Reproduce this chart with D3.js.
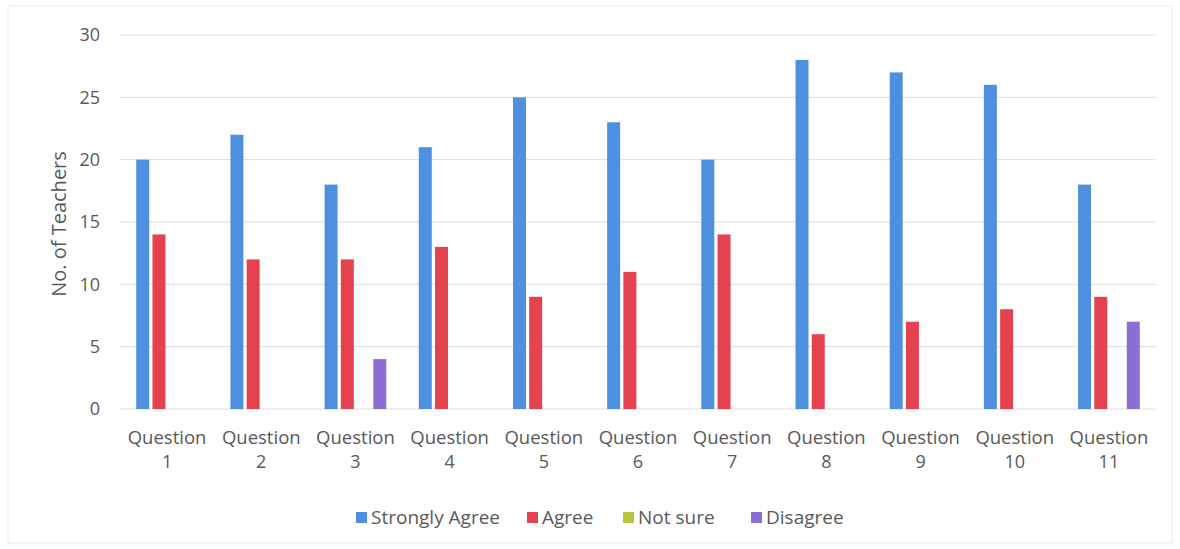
<!DOCTYPE html>
<html><head><meta charset="utf-8">
<script src="https://cdn.jsdelivr.net/npm/d3@7"></script>
<style>body{margin:0;background:#fff;} text{font-family:"Open Sans",sans-serif;}</style>
</head><body><svg id="c" width="1180" height="549"></svg>
<script>
const categories = ["Question 1","Question 2","Question 3","Question 4","Question 5","Question 6","Question 7","Question 8","Question 9","Question 10","Question 11"];
const seriesNames = ["Strongly Agree","Agree","Not sure","Disagree"];
const stronglyAgree = [20,22,18,21,25,23,20,28,27,26,18];
const agree = [14,12,12,13,9,11,14,6,7,8,9];
const notSure = [0,0,0,0,0,0,0,0,0,0,0];
const disagree = [0,0,4,0,0,0,0,0,0,0,7];
const yTicks = [0,5,10,15,20,25,30];
const colors = ["#4f8fe0","#e5424f","#b9c43c","#8b6fd2"];

const seriesVals = [stronglyAgree, agree, notSure, disagree];
const svg = d3.select("#c");
const m = {l:120, r:1156, t:35, b:409};
const x0 = d3.scaleBand().domain(categories).range([m.l, m.r]).paddingInner(0).paddingOuter(0);
const x1 = d3.scaleBand().domain(seriesNames).range([0, x0.bandwidth()]).paddingInner(0.2).paddingOuter(1.0);
const y = d3.scaleLinear().domain([0,30]).range([m.b, m.t]);

// frame
svg.append("rect").attr("x",8).attr("y",6).attr("width",1164).attr("height",537)
  .attr("fill","none").attr("stroke","#ececec").attr("stroke-width",1);

// gridlines
svg.append("g").selectAll("line").data(yTicks).join("line")
  .attr("x1",m.l).attr("x2",m.r).attr("y1",d=>y(d)).attr("y2",d=>y(d))
  .attr("stroke","#dcdcdc").attr("stroke-width",1);

// y axis labels
const yAxis = d3.axisLeft(y).tickValues(yTicks).tickSize(0).tickPadding(0);
const ya = svg.append("g").attr("transform",`translate(${m.l-20},0)`).call(yAxis);
ya.select(".domain").remove();
ya.selectAll("text").attr("font-size",18).attr("fill","#595959").attr("font-family","Open Sans");

// bars
const groups = svg.append("g").selectAll("g").data(categories).join("g")
  .attr("transform",d=>`translate(${x0(d)},0)`);
groups.selectAll("rect").data((d,i)=>seriesNames.map((s,j)=>({s,j,v:seriesVals[j][i]})))
  .join("rect")
  .attr("x",d=>x1(d.s)).attr("width",x1.bandwidth())
  .attr("y",d=>y(d.v)).attr("height",d=>y(0)-y(d.v))
  .attr("fill",d=>colors[d.j]);

// x labels (two lines as separate texts)
const xg = svg.append("g");
xg.selectAll("text.l1").data(categories).join("text").attr("class","l1")
  .attr("x",d=>x0(d)+x0.bandwidth()/2).attr("y",444)
  .attr("text-anchor","middle").attr("font-size",18.5).attr("fill","#595959")
  .text(d=>d.split(" ")[0]);
xg.selectAll("text.l2").data(categories).join("text").attr("class","l2")
  .attr("x",d=>x0(d)+x0.bandwidth()/2).attr("y",468)
  .attr("text-anchor","middle").attr("font-size",18).attr("fill","#595959")
  .text(d=>d.split(" ")[1]);

// y title
svg.append("text").attr("transform","translate(66,224) rotate(-90)")
  .attr("text-anchor","middle").attr("font-size",20).attr("fill","#595959").text("No. of Teachers");

// legend
const legendX = [356, 527, 623, 751];
const lg = svg.append("g").selectAll("g").data(seriesNames).join("g")
  .attr("transform",(d,i)=>`translate(${legendX[i]},517)`);
lg.append("rect").attr("x",0).attr("y",-5).attr("width",11).attr("height",11).attr("fill",(d,i)=>colors[i]);
lg.append("text").attr("x",15).attr("y",7).attr("font-size",19).attr("fill","#595959").text(d=>d);
</script></body></html>
